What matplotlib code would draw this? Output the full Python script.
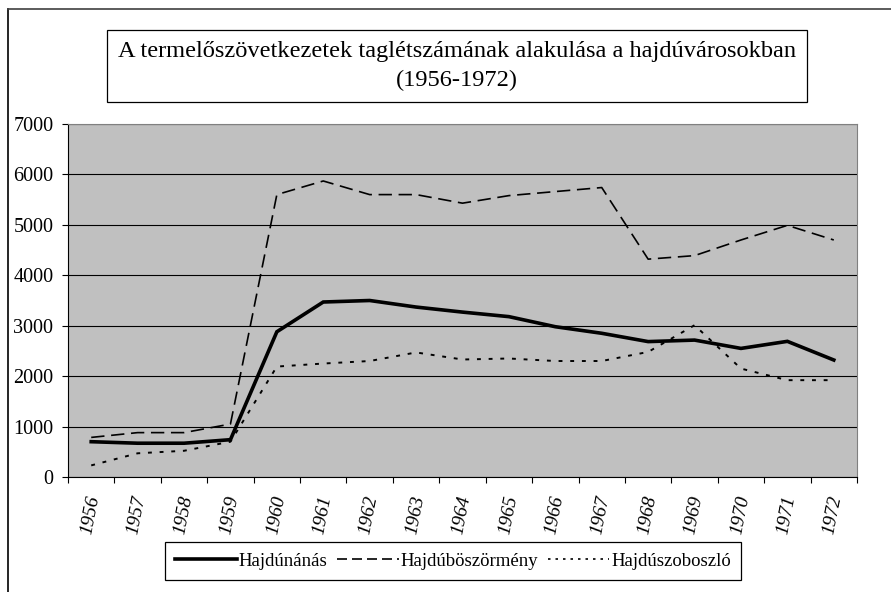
import matplotlib
matplotlib.use("Agg")
import matplotlib.pyplot as plt
from matplotlib.lines import Line2D
import numpy as np

plt.rcParams['font.family'] = ['Liberation Serif', 'DejaVu Serif']

years = [str(y) for y in range(1956, 1973)]
hajdunanas = [700, 670, 670, 740, 2880, 3470, 3500, 3370, 3270, 3180,
              2980, 2850, 2685, 2715, 2550, 2690, 2320]
hajduboszormeny = [785, 880, 880, 1050, 5600, 5870, 5600, 5600, 5430, 5580,
                   5660, 5740, 4320, 4390, 4700, 4990, 4700]
hajduszoboszlo = [230, 470, 520, 700, 2190, 2250, 2300, 2470, 2330, 2350,
                  2300, 2300, 2480, 3010, 2150, 1920, 1920]

W, H = 891, 592
fig = plt.figure(figsize=(W / 100, H / 100), dpi=100)
ax = fig.add_axes([68 / W, 1 - 477 / H, (857 - 68) / W, (477 - 124) / H])
ax.set_facecolor('#c0c0c0')

x = np.arange(len(years))
ax.plot(x, hajdunanas, color='black', lw=2.6, solid_joinstyle='miter')
ax.plot(x, hajduboszormeny, color='black', lw=1.2, dashes=(8, 4))
ax.plot(x, hajduszoboszlo, color='black', lw=1.4, dashes=(2, 4))

ax.set_xlim(-0.5, len(years) - 0.5)
ax.set_ylim(0, 7000)
ax.set_yticks(range(0, 7001, 1000))
ax.yaxis.grid(True, color='black', lw=0.8)
ax.set_axisbelow(True)

# ticks between categories, labels at the centres
ax.set_xticks(np.arange(-0.5, len(years), 1.0))
ax.set_xticklabels([])
ax.tick_params(axis='x', direction='out', length=4.5, width=0.8)
ax.tick_params(axis='y', direction='out', length=4.5, width=0.8, labelsize=14.5, pad=6)
for i, yr in enumerate(years):
    ax.annotate(yr, xy=(i, 0), xycoords=('data', 'axes fraction'),
                xytext=(3, -19), textcoords='offset pixels',
                rotation=79, rotation_mode='anchor', ha='right', va='center',
                fontsize=14, style='italic')

for s in ['top', 'right']:
    ax.spines[s].set_color('#808080')
for s in ['left', 'bottom']:
    ax.spines[s].set_color('black')

# title in a box
fig.text(457 / W, 1 - 66 / H,
         'A termelőszövetkezetek taglétszámának alakulása a hajdúvárosokban\n(1956-1972)',
         ha='center', va='center', fontsize=17.6, linespacing=1.5,
         bbox=dict(boxstyle='square,pad=0.45', fc='white', ec='black', lw=0.9))

handles = [Line2D([], [], color='black', lw=2.6),
           Line2D([], [], color='black', lw=1.2, dashes=(6, 3)),
           Line2D([], [], color='black', lw=1.2, dashes=(1.5, 3))]
leg = fig.legend(handles, ['Hajdúnánás', 'Hajdúböszörmény', 'Hajdúszoboszló'],
                 loc='center', bbox_to_anchor=(453 / W, 1 - 561 / H), ncol=3,
                 fontsize=13.5, handlelength=3.3, handletextpad=0.1,
                 columnspacing=0.5, fancybox=False, framealpha=1,
                 edgecolor='black', borderpad=0.55)
leg.get_frame().set_linewidth(0.9)

# outer chart border (top and left visible)
fig.add_artist(Line2D([8 / W, 8 / W], [0, 1 - 9 / H], color='black', lw=1.2,
                      transform=fig.transFigure))
fig.add_artist(Line2D([8 / W, 1], [1 - 9 / H, 1 - 9 / H], color='#404040', lw=1.2,
                      transform=fig.transFigure))

fig.savefig('out.png', dpi=100)
